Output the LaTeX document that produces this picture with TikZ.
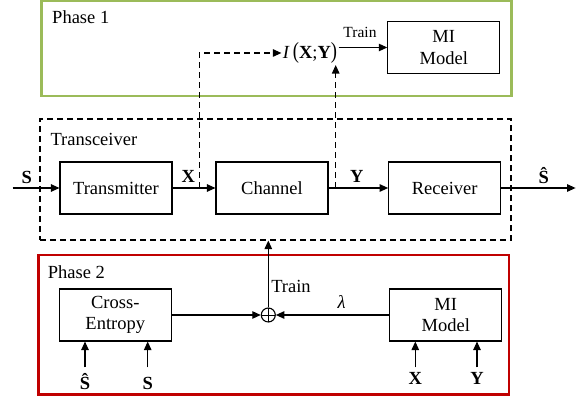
\documentclass[tikz,border=0pt]{standalone}
\usepackage{fontspec}
\setmainfont{Liberation Serif}
\usetikzlibrary{arrows.meta}
\definecolor{phgreen}{RGB}{155,187,89}
\definecolor{phred}{RGB}{192,0,0}
\tikzset{>={Triangle[length=8.5pt,width=7.5pt]},
  blk/.style={draw, line width=1.1pt, minimum width=112pt, minimum height=52pt, align=center, inner sep=0pt},
  dsh/.style={dash pattern=on 6pt off 4pt, line width=1.1pt},
  phase/.style={draw=#1, line width=2.5pt},
  tag/.style={anchor=west, inner sep=0pt},
  inlab/.style={anchor=base, inner sep=0pt, text height=#1, text depth=0pt},
  sumnode/.style={draw, circle, line width=1.1pt, minimum size=14pt, inner sep=0pt,
    path picture={\draw[line width=0.8pt] (path picture bounding box.north) -- (path picture bounding box.south)
      (path picture bounding box.west) -- (path picture bounding box.east);}}}

\begin{document}
\begin{tikzpicture}[x=1pt, y=-1pt, line width=1.1pt, font=\fontsize{18.5}{21.5}\selectfont]
  \useasboundingbox (0,0) rectangle (582,403);
  % frames
  \node [phase=phgreen, minimum width=470pt, minimum height=95.5pt] (ph1) at (276.6,48.5) {};
  \node [phase=phred, minimum width=470.5pt, minimum height=139.5pt] (ph2) at (273.75,324.75) {};
  \node [draw, dsh, minimum width=471pt, minimum height=121pt] (trx) at (275.5,179.5) {};
  \node [tag] (t1) at (51.7,16.7) {Phase 1};
  \node [tag] (t2) at (50,139) {Transceiver};
  \node [tag] (t3) at (47.3,271.7) {Phase 2};

  % transceiver chain
  \node [blk] (tx) at (116,188) {Transmitter};
  \node [blk] (ch) at (272,188) {Channel};
  \node [blk] (rx) at (444.7,188) {Receiver};
  \coordinate (sin) at (12.7,188);
  \coordinate (sout) at (575.6,188);
  \coordinate (xtap) at (199.3,188);
  \coordinate (ytap) at (335.7,188);
  \draw [->] (sin) -- (tx.west);
  \draw [->] (tx.east) -- (ch.west);
  \draw [->] (ch.east) -- (rx.west);
  \draw [->] (rx.east) -- (sout);
  \node [anchor=base] (ls) at (26.7,183.5) {\textbf{S}};
  \node [anchor=base] (lx) at (188.3,182.7) {\textbf{X}};
  \node [anchor=base] (ly) at (356.7,182.7) {\textbf{Y}};
  \node [anchor=base] (lsh) at (543.7,183.5) {\textbf{Ŝ}};

  % phase 1
  \node [inner sep=1pt] (mi) at (310,53) {\textit{I}\,\scalebox{1}[1.25]{(}\textbf{X};\textbf{Y}\scalebox{1}[1.25]{)}};
  \node [blk] (mia) at (443.8,47.5) {MI\\Model};
  \draw [dsh, ->] (xtap) |- (mi.west);
  \draw [dsh, ->] (ytap) -- (ytap |- mi.south);
  \draw [->] (mi.east |- mia.west) -- (mia.west);
  \node [font=\fontsize{15.5}{18}\selectfont] (tr1) at (360,32) {Train};

  % phase 2
  \node [blk] (ce) at (115.3,315) {Cross-\\Entropy};
  \node [blk] (mib) at (445.8,315) {MI\\Model};
  \node [sumnode] (sum) at (268.3,315) {};
  \draw [->] (ce.east) -- (sum.west);
  \draw [->] (mib.west) -- (sum.east);
  \draw [->] (sum.north) -- (sum |- trx.south);
  \node (tr2) at (291,286.7) {Train};
  \node (lam) at (341.7,302) {\textit{λ}};
  \node [inlab=22pt] (ish) at (85,390) {\textbf{Ŝ}};
  \node [inlab=22pt] (is) at (147.7,390) {\textbf{S}};
  \node [inlab=17pt] (ix) at (415.3,385) {\textbf{X}};
  \node [inlab=17pt] (iy) at (477,385) {\textbf{Y}};
  \draw [->] (ish.north) -- (ish |- ce.south);
  \draw [->] (is.north) -- (is |- ce.south);
  \draw [->] (ix.north) -- (ix |- mib.south);
  \draw [->] (iy.north) -- (iy |- mib.south);
\end{tikzpicture}
\end{document}
